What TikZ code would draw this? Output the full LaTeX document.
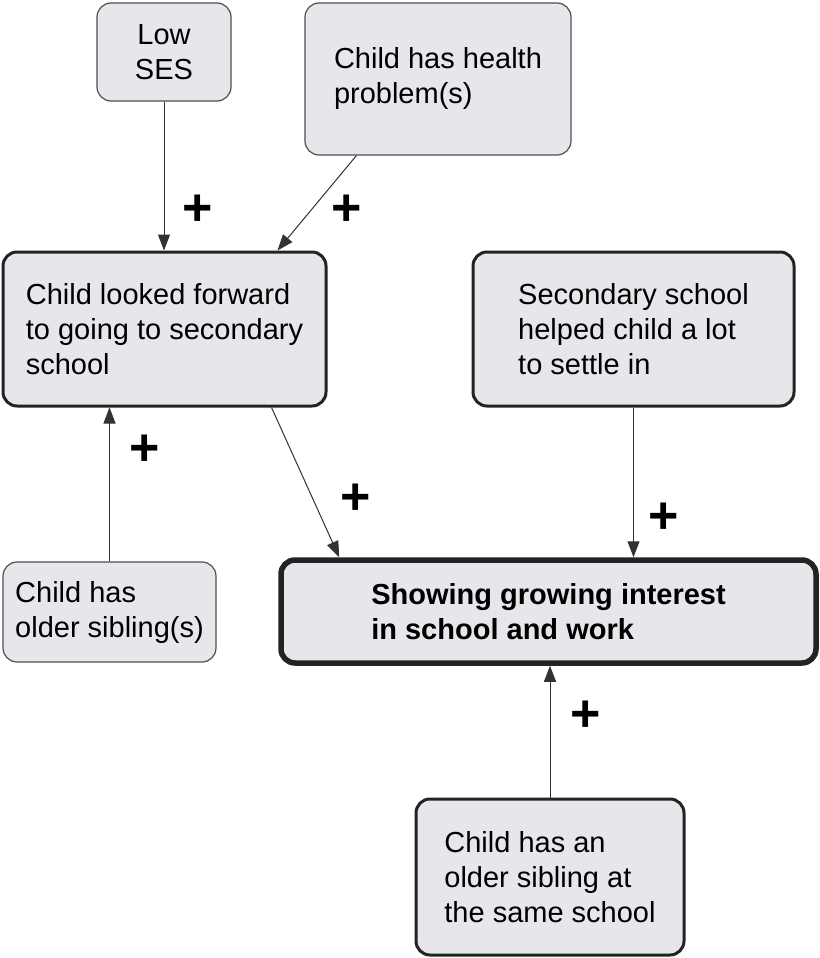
\documentclass[tikz,border=0pt]{standalone}
\usepackage{fontspec}
\setmainfont{Liberation Sans}
\usepackage{xcolor}
\definecolor{boxgray}{RGB}{230,231,235}
\definecolor{edgegray}{RGB}{35,35,35}
\definecolor{linegray}{RGB}{50,50,50}
\usepackage{tikz}
\usetikzlibrary{arrows.meta, calc}

\begin{document}
\begin{tikzpicture}[x=1pt, y=-1pt,
  factor/.style={draw=edgegray, fill=boxgray, rounded corners=14pt, align=left,
    inner sep=0pt, font=\fontsize{29}{35}\selectfont},
  weakbox/.style={factor, line width=1.2pt, draw=edgegray!80},
  strongbox/.style={factor, line width=3pt},
  mainbox/.style={factor, line width=5.5pt, font=\fontsize{29}{35}\selectfont\bfseries},
  link/.style={-{Triangle[length=16pt,width=12pt]}, line width=1pt, draw=linegray},
  plus/.style={font=\fontsize{52}{52}\selectfont\bfseries, inner sep=0pt}
]
  \useasboundingbox (0,0) rectangle (819,958);

  % --- Boxes ---
  \node[weakbox, align=center, minimum width=134pt, minimum height=98pt] (lowses) at (164,52) {Low\\SES};
  \node[weakbox, minimum width=266pt, minimum height=152pt] (health) at (438,79) {Child has health\\problem(s)};
  \node[strongbox, minimum width=323pt, minimum height=154pt] (forward) at (164.5,329) {Child looked forward\\to going to secondary\\school};
  \node[strongbox, minimum width=321pt, minimum height=154pt] (secondary) at (633.5,329) {Secondary school\\helped child a lot\\to settle in};
  \node[weakbox, minimum width=213pt, minimum height=100pt] (older) at (109.5,612) {Child has\\older sibling(s)};
  \node[mainbox, minimum width=535pt, minimum height=103pt] (showing) at (548.5,611.5) {Showing growing interest\\in school and work};
  \node[strongbox, minimum width=268pt, minimum height=156pt] (same) at (550,877) {Child has an\\older sibling at\\the same school};

  % --- Links ---
  \draw[link] (lowses.south) -- (lowses.south |- forward.north);
  \draw[link] ($(health.south west)+(52,0)$) -- ($(forward.north east)+(-50,0)$);
  \draw[link] (older.north) -- (older.north |- forward.south);
  \draw[link] ($(forward.south east)+(-56,0)$) -- ($(showing.north west)+(61,0)$);
  \draw[link] (secondary.south) -- (secondary.south |- showing.north);
  \draw[link] (same.north) -- (same.north |- showing.south);

  % --- Signs ---
  \node[plus] (plusa) at (198,210) {+};
  \node[plus] (plusb) at (347,210) {+};
  \node[plus] (plusc) at (145,450) {+};
  \node[plus] (plusd) at (356,499) {+};
  \node[plus] (pluse) at (664,518) {+};
  \node[plus] (plusf) at (586,716) {+};
\end{tikzpicture}
\end{document}
